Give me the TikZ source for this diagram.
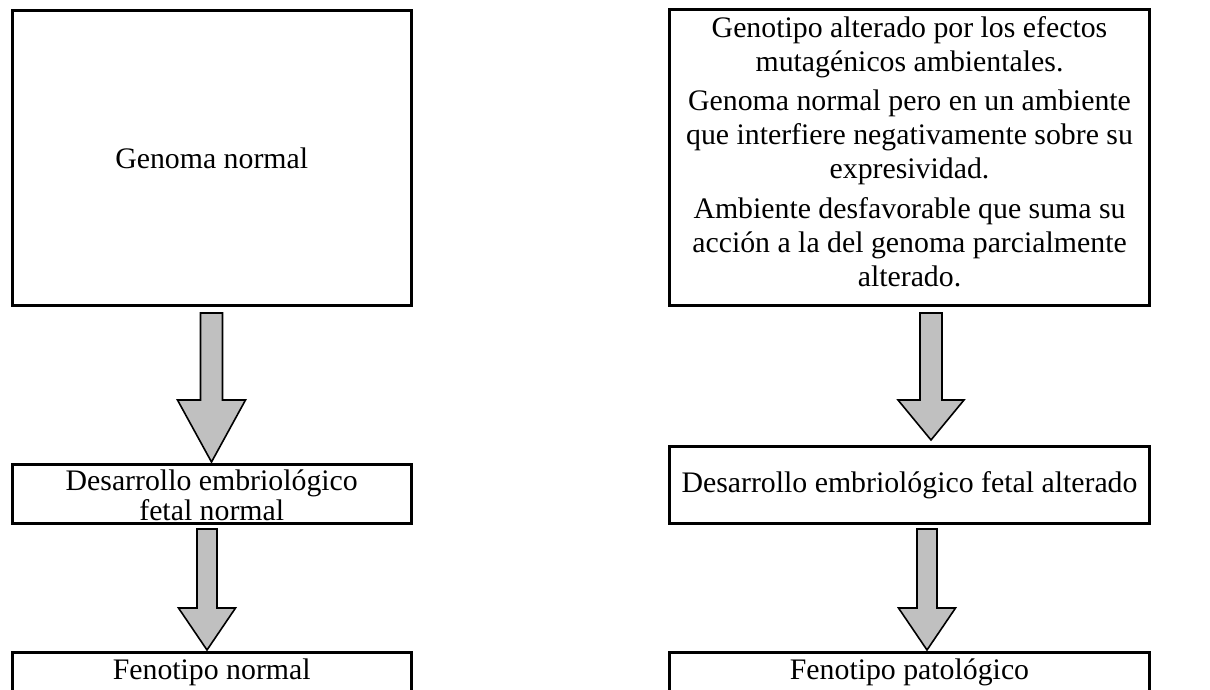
\documentclass[tikz,border=0pt]{standalone}
\usepackage{fontspec}
\setmainfont{Liberation Serif}
\definecolor{arrowgray}{RGB}{192,192,192}
\begin{document}
\begin{tikzpicture}[x=0.75pt,y=-0.75pt,
  box/.style={draw=black,line width=2.25pt,fill=white,inner sep=0pt,align=center,
    font=\fontsize{22.35}{25.5}\selectfont},
  txt/.style={inner sep=0pt,align=center,font=\fontsize{22.35}{25.5}\selectfont},
  barrow/.style={draw=black,line width=1.2pt,fill=arrowgray,line join=miter}]
\useasboundingbox (0,0) rectangle (1210,689);
\clip (0,0) rectangle (1210,689);
\newcommand{\blockarrow}[6]{%
  \draw[barrow] ({#1-#5},#2) -- ({#1+#5},#2) -- ({#1+#5},#3) -- ({#1+#6},#3) -- (#1,#4)
    -- ({#1-#6},#3) -- ({#1-#5},#3) -- cycle;}
% left column
\node[box,minimum width=299.6pt,minimum height=221.25pt,anchor=north west] (gn) at (10.5,9) {Genoma normal};
\node[box,minimum width=299.6pt,minimum height=44.25pt,anchor=north west] (dn) at (10.5,463) {};
\node[txt] (dnt) at ([yshift=-0.75pt]dn.center) {Desarrollo embriológico\\[-3pt]fetal normal};
\node[box,minimum width=299.6pt,minimum height=75pt,anchor=north west,text depth=50pt] (fn) at (10.5,651)
  {Fenotipo normal};
% right column
\node[box,minimum width=360pt,minimum height=222pt,anchor=north west] (ga) at (668,8) {};
\node[txt] (gat) at ([yshift=4.5pt]ga.center)
  {Genotipo alterado por los efectos\\mutagénicos ambientales.\\[4pt]
   Genoma normal pero en un ambiente\\que interfiere negativamente sobre su\\expresividad.\\[4pt]
   Ambiente desfavorable que suma su\\acción a la del genoma parcialmente\\alterado.};
\node[box,minimum width=360pt,minimum height=57.75pt,anchor=north west] (da) at (668,445)
  {Desarrollo embriológico fetal alterado};
\node[box,minimum width=360pt,minimum height=75pt,anchor=north west,text depth=50pt] (fp) at (668,651)
  {Fenotipo patológico};
% arrows
\blockarrow{211.5}{313}{400}{462}{11}{34}
\blockarrow{931}{313}{400}{440}{11}{33}
\blockarrow{207}{529}{608}{650}{10}{28.5}
\blockarrow{927}{529}{608}{650}{10}{28.5}
\end{tikzpicture}
\end{document}
